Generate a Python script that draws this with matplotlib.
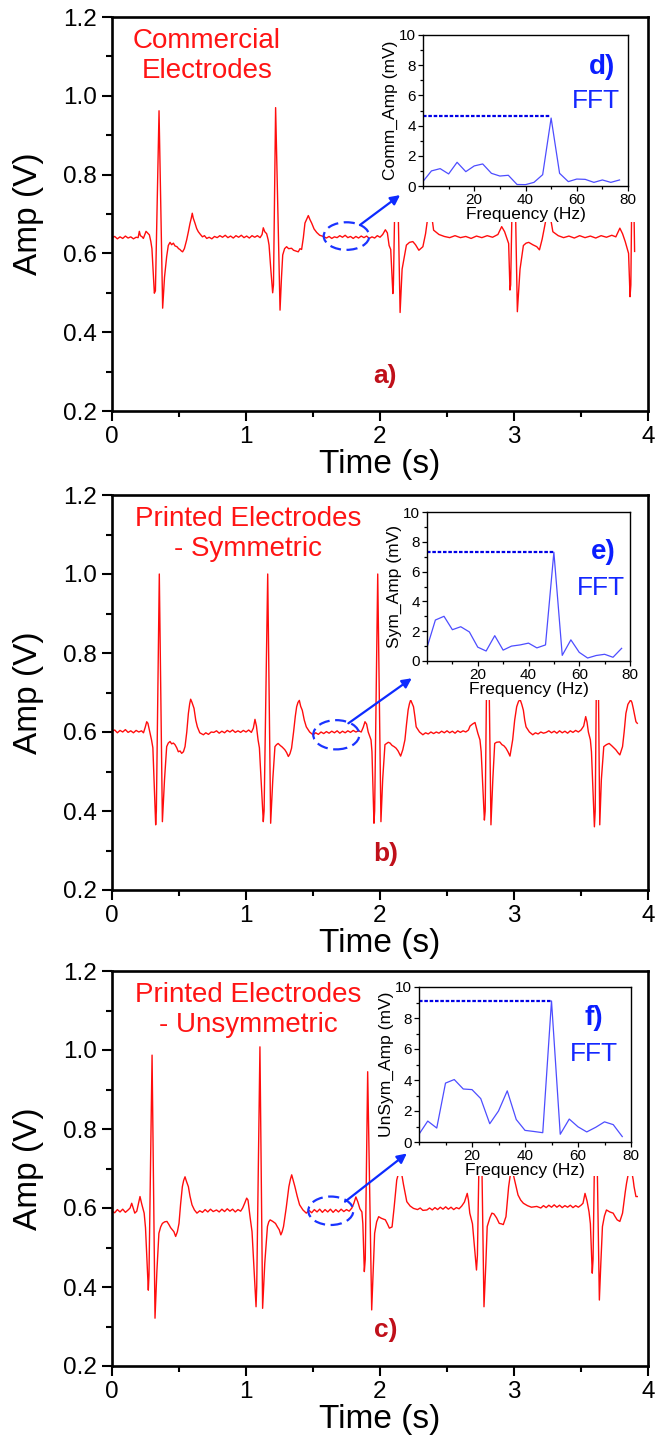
import numpy as np
import matplotlib
matplotlib.use("Agg")
import matplotlib.pyplot as plt
from matplotlib.patches import Ellipse, Rectangle
from matplotlib.ticker import MultipleLocator

plt.rcParams['font.family'] = ['Liberation Sans', 'DejaVu Sans']

# ---- ECG traces (time in s, amplitude in V) ----
t_comm = [0.00, 0.02, 0.04, 0.06, 0.08, 0.10, 0.12, 0.14, 0.16, 0.18, 0.195, 0.204, 0.212, 0.225, 0.234,
          0.245, 0.254, 0.265, 0.279, 0.290, 0.298, 0.316, 0.324, 0.351, 0.378, 0.392, 0.408, 0.420, 0.433,
          0.445, 0.458, 0.470, 0.485, 0.497, 0.507, 0.518, 0.527, 0.540, 0.557, 0.570, 0.582, 0.592, 0.599,
          0.606, 0.619, 0.632, 0.644, 0.660, 0.675, 0.690, 0.707, 0.725, 0.745, 0.765, 0.785, 0.805, 0.825,
          0.845, 0.865, 0.885, 0.905, 0.925, 0.945, 0.965, 0.985, 1.005, 1.025, 1.045, 1.065, 1.085, 1.105,
          1.120, 1.129, 1.140, 1.154, 1.165, 1.172, 1.185, 1.199, 1.205, 1.221, 1.254, 1.265, 1.274, 1.288,
          1.303, 1.318, 1.340, 1.355, 1.372, 1.390, 1.403, 1.415, 1.428, 1.440, 1.452, 1.465, 1.477, 1.490,
          1.508, 1.528, 1.550, 1.577, 1.60, 1.62, 1.64, 1.66, 1.68, 1.70, 1.72, 1.74, 1.76, 1.78, 1.80, 1.82,
          1.84, 1.86, 1.88, 1.90, 1.92, 1.94, 1.96, 1.98, 2.00, 2.02, 2.04, 2.055, 2.068, 2.080, 2.096, 2.100,
          2.122, 2.150, 2.165, 2.197, 2.22, 2.245, 2.265, 2.29, 2.32, 2.34, 2.36, 2.375, 2.39, 2.40, 2.44,
          2.48, 2.52, 2.56, 2.60, 2.64, 2.68, 2.72, 2.76, 2.80, 2.84, 2.88, 2.908, 2.93, 2.96, 2.97, 2.975,
          2.998, 3.025, 3.045, 3.07, 3.09, 3.11, 3.14, 3.17, 3.19, 3.21, 3.235, 3.255, 3.275, 3.29, 3.33,
          3.37, 3.41, 3.45, 3.49, 3.53, 3.57, 3.61, 3.65, 3.69, 3.73, 3.76, 3.79, 3.81, 3.83, 3.855, 3.866,
          3.872, 3.885, 3.90]
v_comm = [0.640, 0.643, 0.637, 0.642, 0.638, 0.644, 0.639, 0.642, 0.637, 0.641, 0.640, 0.656, 0.645, 0.642, 0.638,
          0.648, 0.656, 0.652, 0.647, 0.630, 0.612, 0.499, 0.505, 0.962, 0.461, 0.540, 0.592, 0.620, 0.628,
          0.622, 0.626, 0.619, 0.617, 0.612, 0.610, 0.606, 0.604, 0.612, 0.634, 0.655, 0.676, 0.690, 0.702,
          0.690, 0.677, 0.663, 0.655, 0.648, 0.642, 0.645, 0.638, 0.641, 0.637, 0.643, 0.640, 0.645, 0.641,
          0.646, 0.640, 0.644, 0.639, 0.645, 0.641, 0.646, 0.640, 0.644, 0.639, 0.645, 0.641, 0.645, 0.640,
          0.648, 0.665, 0.655, 0.650, 0.635, 0.621, 0.560, 0.500, 0.520, 0.970, 0.456, 0.540, 0.596, 0.612,
          0.617, 0.612, 0.613, 0.608, 0.606, 0.604, 0.612, 0.610, 0.640, 0.677, 0.686, 0.696, 0.686, 0.677,
          0.662, 0.653, 0.646, 0.643, 0.639, 0.643, 0.638, 0.642, 0.640, 0.645, 0.641, 0.646, 0.640, 0.643,
          0.638, 0.643, 0.639, 0.644, 0.640, 0.644, 0.638, 0.642, 0.639, 0.645, 0.641, 0.648, 0.660, 0.652,
          0.620, 0.610, 0.498, 0.520, 0.960, 0.450, 0.560, 0.621, 0.628, 0.630, 0.622, 0.608, 0.617, 0.650,
          0.700, 0.705, 0.685, 0.659, 0.648, 0.643, 0.640, 0.645, 0.640, 0.643, 0.638, 0.644, 0.640, 0.645,
          0.641, 0.648, 0.668, 0.655, 0.625, 0.507, 0.520, 0.960, 0.452, 0.560, 0.620, 0.626, 0.628, 0.622,
          0.617, 0.609, 0.636, 0.680, 0.705, 0.685, 0.655, 0.645, 0.640, 0.644, 0.639, 0.645, 0.640, 0.644,
          0.639, 0.645, 0.641, 0.646, 0.642, 0.664, 0.650, 0.630, 0.600, 0.490, 0.520, 0.940, 0.605]

t_sym = [0.00, 0.02, 0.04, 0.06, 0.08, 0.10, 0.12, 0.14, 0.16, 0.18, 0.20, 0.22, 0.235, 0.248, 0.259, 0.268,
         0.282, 0.295, 0.305, 0.326, 0.331, 0.353, 0.376, 0.392, 0.408, 0.420, 0.433, 0.445, 0.458, 0.470,
         0.483, 0.495, 0.508, 0.520, 0.533, 0.545, 0.558, 0.570, 0.580, 0.587, 0.597, 0.612, 0.625, 0.637,
         0.655, 0.682, 0.70, 0.72, 0.74, 0.76, 0.78, 0.80, 0.82, 0.84, 0.86, 0.88, 0.90, 0.92, 0.94, 0.96,
         0.98, 1.00, 1.02, 1.04, 1.055, 1.067, 1.078, 1.090, 1.100, 1.129, 1.135, 1.162, 1.184, 1.200, 1.216,
         1.228, 1.240, 1.255, 1.270, 1.290, 1.303, 1.316, 1.328, 1.340, 1.355, 1.368, 1.378, 1.388, 1.398,
         1.408, 1.420, 1.435, 1.450, 1.475, 1.50, 1.52, 1.54, 1.56, 1.58, 1.60, 1.62, 1.64, 1.66, 1.68, 1.70,
         1.72, 1.74, 1.76, 1.78, 1.80, 1.82, 1.84, 1.86, 1.875, 1.888, 1.900, 1.912, 1.933, 1.940, 1.955,
         1.960, 1.983, 2.007, 2.020, 2.037, 2.05, 2.062, 2.075, 2.09, 2.105, 2.12, 2.135, 2.154, 2.17, 2.186,
         2.198, 2.21, 2.22, 2.229, 2.24, 2.25, 2.26, 2.27, 2.295, 2.32, 2.34, 2.36, 2.38, 2.40, 2.42, 2.44,
         2.46, 2.48, 2.50, 2.52, 2.54, 2.56, 2.58, 2.60, 2.62, 2.64, 2.66, 2.672, 2.690, 2.709, 2.72, 2.73,
         2.746, 2.755, 2.779, 2.785, 2.804, 2.828, 2.842, 2.856, 2.87, 2.893, 2.91, 2.925, 2.94, 2.955, 2.97,
         2.99, 3.005, 3.02, 3.032, 3.045, 3.058, 3.07, 3.08, 3.09, 3.115, 3.14, 3.16, 3.18, 3.20, 3.22, 3.24,
         3.26, 3.28, 3.30, 3.32, 3.34, 3.36, 3.38, 3.40, 3.42, 3.44, 3.46, 3.48, 3.50, 3.52, 3.535, 3.545,
         3.555, 3.57, 3.578, 3.600, 3.606, 3.622, 3.640, 3.652, 3.670, 3.69, 3.71, 3.73, 3.745, 3.76, 3.775,
         3.79, 3.81, 3.822, 3.835, 3.85, 3.87, 3.88, 3.89, 3.91, 3.92]
v_sym = [0.602, 0.605, 0.598, 0.604, 0.600, 0.606, 0.599, 0.603, 0.598, 0.604, 0.600, 0.603, 0.598, 0.612, 0.626, 0.622,
         0.600, 0.580, 0.560, 0.365, 0.400, 1.000, 0.373, 0.480, 0.563, 0.572, 0.576, 0.570, 0.572, 0.568,
         0.560, 0.550, 0.552, 0.546, 0.550, 0.563, 0.600, 0.647, 0.672, 0.683, 0.675, 0.660, 0.630, 0.613,
         0.598, 0.593, 0.598, 0.594, 0.600, 0.599, 0.603, 0.597, 0.602, 0.598, 0.604, 0.600, 0.605, 0.599, 0.603, 0.599,
         0.604, 0.600, 0.605, 0.599, 0.610, 0.632, 0.615, 0.580, 0.560, 0.373, 0.400, 1.000, 0.369, 0.480, 0.563,
         0.568, 0.571, 0.566, 0.562, 0.555, 0.548, 0.538, 0.545, 0.559, 0.600, 0.640, 0.664, 0.675, 0.680,
         0.665, 0.655, 0.630, 0.613, 0.600, 0.593, 0.598, 0.594, 0.600, 0.596, 0.601, 0.597, 0.602, 0.598, 0.603, 0.597,
         0.602, 0.598, 0.603, 0.599, 0.604, 0.600, 0.603, 0.600, 0.612, 0.626, 0.620, 0.600, 0.580, 0.550, 0.369,
         0.400, 1.000, 0.373, 0.480, 0.568, 0.571, 0.574, 0.572, 0.566, 0.563, 0.559, 0.552, 0.539, 0.555, 0.580,
         0.620, 0.656, 0.672, 0.681, 0.672, 0.664, 0.640, 0.613, 0.600, 0.593, 0.598, 0.595, 0.600, 0.596, 0.600, 0.597,
         0.602, 0.598, 0.603, 0.598, 0.602, 0.597, 0.603, 0.599, 0.603, 0.600, 0.605, 0.615, 0.620, 0.624, 0.610, 0.597,
         0.580, 0.550, 0.377, 0.400, 1.000, 0.365, 0.480, 0.571, 0.574, 0.575, 0.568, 0.565, 0.559, 0.550, 0.539,
         0.580, 0.630, 0.664, 0.676, 0.683, 0.670, 0.655, 0.630, 0.613, 0.600, 0.593, 0.598, 0.595, 0.600, 0.597, 0.599,
         0.603, 0.598, 0.602, 0.597, 0.603, 0.598, 0.602, 0.597, 0.603, 0.599, 0.604, 0.600, 0.605, 0.615, 0.639, 0.625,
         0.600, 0.580, 0.550, 0.360, 0.400, 1.000, 0.365, 0.480, 0.563, 0.568, 0.571, 0.565, 0.560, 0.555, 0.548,
         0.542, 0.563, 0.600, 0.647, 0.670, 0.681, 0.675, 0.660, 0.626, 0.622]

t_unsym = [0.00, 0.02, 0.04, 0.06, 0.08, 0.10, 0.12, 0.135, 0.147, 0.158, 0.170, 0.185, 0.198, 0.209, 0.222,
           0.240, 0.250, 0.271, 0.276, 0.299, 0.321, 0.335, 0.350, 0.363, 0.376, 0.393, 0.410, 0.425, 0.438,
           0.450, 0.462, 0.475, 0.488, 0.500, 0.512, 0.525, 0.535, 0.545, 0.555, 0.570, 0.582, 0.597, 0.615,
           0.634, 0.655, 0.675, 0.695, 0.715, 0.735, 0.755, 0.78, 0.80, 0.82, 0.84, 0.86, 0.88, 0.90, 0.92,
           0.94, 0.96, 0.975, 0.99, 1.005, 1.015, 1.030, 1.045, 1.075, 1.080, 1.104, 1.124, 1.140, 1.160,
           1.170, 1.180, 1.200, 1.220, 1.235, 1.248, 1.260, 1.270, 1.280, 1.300, 1.320, 1.331, 1.341, 1.352,
           1.365, 1.382, 1.400, 1.425, 1.45, 1.47, 1.49, 1.51, 1.53, 1.55, 1.57, 1.59, 1.61, 1.63, 1.65, 1.67,
           1.69, 1.71, 1.73, 1.75, 1.77, 1.79, 1.805, 1.820, 1.835, 1.850, 1.865, 1.872, 1.883, 1.890, 1.908,
           1.938, 1.950, 1.960, 1.975, 1.990, 2.010, 2.040, 2.055, 2.070, 2.090, 2.105, 2.125, 2.14, 2.16,
           2.175, 2.20, 2.225, 2.25, 2.28, 2.30, 2.32, 2.35, 2.37, 2.39, 2.41, 2.43, 2.45, 2.47, 2.49, 2.51,
           2.53, 2.55, 2.57, 2.59, 2.61, 2.63, 2.651, 2.66, 2.67, 2.69, 2.72, 2.727, 2.75, 2.776, 2.790, 2.80,
           2.82, 2.835, 2.85, 2.87, 2.89, 2.905, 2.92, 2.94, 2.96, 2.975, 2.99, 3.005, 3.03, 3.05, 3.07, 3.10,
           3.13, 3.17, 3.20, 3.22, 3.24, 3.26, 3.28, 3.30, 3.32, 3.34, 3.36, 3.38, 3.40, 3.42, 3.44, 3.46,
           3.48, 3.50, 3.515, 3.53, 3.545, 3.56, 3.57, 3.584, 3.590, 3.610, 3.637, 3.648, 3.660, 3.675, 3.690,
           3.715, 3.74, 3.755, 3.77, 3.79, 3.81, 3.83, 3.84, 3.855, 3.875, 3.89, 3.896, 3.91, 3.92]
v_unsym = [0.592, 0.588, 0.596, 0.590, 0.597, 0.589, 0.595, 0.600, 0.612, 0.600, 0.587, 0.592, 0.612, 0.629, 0.610,
           0.587, 0.550, 0.392, 0.430, 0.987, 0.321, 0.440, 0.536, 0.552, 0.561, 0.565, 0.566, 0.558, 0.550,
           0.545, 0.540, 0.528, 0.540, 0.561, 0.610, 0.654, 0.670, 0.679, 0.668, 0.654, 0.630, 0.608, 0.595,
           0.587, 0.593, 0.589, 0.596, 0.590, 0.597, 0.591, 0.595, 0.590, 0.597, 0.591, 0.598, 0.592, 0.597, 0.590,
           0.596, 0.592, 0.600, 0.612, 0.625, 0.620, 0.578, 0.540, 0.350, 0.400, 1.008, 0.346, 0.460, 0.553,
           0.565, 0.570, 0.566, 0.561, 0.552, 0.545, 0.532, 0.540, 0.553, 0.600, 0.654, 0.672, 0.684, 0.670,
           0.654, 0.630, 0.608, 0.595, 0.587, 0.594, 0.588, 0.596, 0.590, 0.597, 0.589, 0.596, 0.590, 0.597, 0.589, 0.596,
           0.590, 0.597, 0.591, 0.596, 0.592, 0.600, 0.612, 0.628, 0.615, 0.598, 0.590, 0.560, 0.439, 0.470, 0.945,
           0.342, 0.450, 0.536, 0.565, 0.578, 0.574, 0.570, 0.560, 0.549, 0.552, 0.600, 0.671, 0.690, 0.690,
           0.660, 0.616, 0.605, 0.599, 0.596, 0.600, 0.594, 0.595, 0.600, 0.595, 0.601, 0.596, 0.602, 0.597, 0.603, 0.597,
           0.602, 0.596, 0.601, 0.598, 0.605, 0.615, 0.637, 0.620, 0.587, 0.560, 0.443, 0.480, 0.950, 0.350, 0.460, 0.553,
           0.575, 0.587, 0.585, 0.575, 0.561, 0.560, 0.558, 0.578, 0.654, 0.690, 0.692, 0.670, 0.633, 0.620, 0.612, 0.606,
           0.602, 0.604, 0.600, 0.606, 0.601, 0.607, 0.602, 0.608, 0.602, 0.607, 0.601, 0.606, 0.602, 0.607, 0.601, 0.606,
           0.602, 0.607, 0.612, 0.637, 0.618, 0.590, 0.560, 0.435, 0.470, 0.950, 0.367, 0.460, 0.553, 0.580, 0.595,
           0.590, 0.587, 0.578, 0.570, 0.566, 0.587, 0.640, 0.663, 0.690, 0.700, 0.670, 0.654, 0.629, 0.629]

# ---- FFT insets (mV vs Hz) ----
freq = [0.0, 3.3, 6.7, 10.0, 13.3, 16.7, 20.0, 23.3, 26.7, 30.0, 33.3, 36.7, 40.0, 43.3, 46.7, 50.0,
        53.3, 56.7, 60.0, 63.3, 66.7, 70.0, 73.3, 76.7]
fft_comm = [0.30, 1.00, 1.15, 0.80, 1.57, 0.95, 1.33, 1.46, 0.84, 0.66, 0.71, 0.10, 0.09, 0.24, 0.75, 4.50,
            0.84, 0.29, 0.46, 0.44, 0.24, 0.40, 0.24, 0.40]
fft_sym = [0.90, 2.75, 3.00, 2.10, 2.30, 1.95, 0.93, 0.67, 1.70, 0.73, 1.00, 1.08, 1.20, 0.88, 1.08, 7.30,
           0.38, 1.42, 0.58, 0.20, 0.37, 0.45, 0.25, 0.85]
fft_unsym = [0.50, 1.35, 0.90, 3.80, 4.03, 3.42, 3.38, 2.80, 1.18, 2.00, 3.30, 1.45, 0.75, 0.68, 0.60, 9.10,
             0.50, 1.48, 0.98, 0.65, 0.95, 1.30, 1.12, 0.35]
peak_level = [4.65, 7.3, 9.1]

titles = ['Commercial\nElectrodes', 'Printed Electrodes\n- Symmetric', 'Printed Electrodes\n- Unsymmetric']
title_x = [0.177, 0.254, 0.254]
panel_tags = ['a)', 'b)', 'c)']
fft_tags = ['d)', 'e)', 'f)']
fft_ylabels = ['Comm_Amp (mV)', 'Sym_Amp (mV)', 'UnSym_Amp (mV)']
# zoomed region marker: ellipse centre/size and arrow start/end in data units
ell_xy = [(1.75, 0.644), (1.674, 0.593), (1.633, 0.593)]
ell_wh = [(0.34, 0.070), (0.344, 0.074), (0.336, 0.072)]
arr_from = [(1.85, 0.672), (1.764, 0.622), (1.739, 0.616)]
arr_to = [(2.15, 0.748), (2.237, 0.736), (2.20, 0.738)]

W, H = 661, 1439
fig = plt.figure(figsize=(W / 100, H / 100), dpi=100)


def box(l, t, r, b):
    return [l / W, 1 - b / H, (r - l) / W, (b - t) / H]


main_boxes = [(112, 17, 648, 411), (112, 495, 648, 890), (112, 971, 648, 1366)]
inset_boxes = [(423, 35, 628, 186), (427, 512, 630, 661), (419, 987, 631, 1142)]
fft_tag_pos = [(0.873, 0.788, 0.844, 0.563), (0.867, 0.73, 0.857, 0.49), (0.825, 0.80, 0.825, 0.568)]

traces = [(t_comm, v_comm), (t_sym, v_sym), (t_unsym, v_unsym)]
ffts = [fft_comm, fft_sym, fft_unsym]

for i in range(3):
    ax = fig.add_axes(box(*main_boxes[i]))
    t, v = traces[i]
    ax.plot(t, v, color='#ff0d0d', lw=1.0, zorder=2)
    ax.set_xlim(0, 4)
    ax.set_ylim(0.2, 1.2)
    ax.xaxis.set_major_locator(MultipleLocator(1))
    ax.xaxis.set_minor_locator(MultipleLocator(0.5))
    ax.yaxis.set_major_locator(MultipleLocator(0.2))
    ax.yaxis.set_minor_locator(MultipleLocator(0.1))
    ax.set_yticks(np.round(np.arange(0.2, 1.21, 0.2), 1))
    ax.tick_params(which='both', direction='out', width=1.5, labelsize=17.5, pad=4)
    ax.tick_params(which='major', length=7)
    ax.tick_params(which='minor', length=4)
    for s in ax.spines.values():
        s.set_linewidth(1.9)
    ax.set_xlabel('Time (s)', fontsize=24)
    ax.set_ylabel('Amp (V)', fontsize=24)
    ax.xaxis.label.set_va('center')
    ax.yaxis.label.set_va('center')
    ax.xaxis.set_label_coords(0.5, -0.135)
    ax.yaxis.set_label_coords(-0.155, 0.5)

    # white patch behind the inset and its labels
    ax.add_patch(Rectangle((0.509, 0.48), 0.49, 0.519, transform=ax.transAxes,
                           facecolor='white', edgecolor='none', zorder=2.3))
    ax.add_patch(Ellipse(ell_xy[i], ell_wh[i][0], ell_wh[i][1], fill=False, edgecolor='#1a33ff',
                         lw=1.6, linestyle=(0, (5, 2.5)), zorder=2.4))
    ax.annotate('', xy=arr_to[i], xytext=arr_from[i],
                arrowprops=dict(arrowstyle='-|>', color='#0d2bff', lw=1.6, mutation_scale=14,
                                shrinkA=0, shrinkB=0), zorder=4)

    ax.text(title_x[i], 0.90, titles[i], transform=ax.transAxes, ha='center', va='center',
            color='#ff1414', fontsize=20, linespacing=1.2)
    ax.text(0.51, 0.09, panel_tags[i], transform=ax.transAxes, ha='center', va='center',
            color='#c0101a', fontsize=19, fontweight='bold')

    # FFT inset
    ix = fig.add_axes(box(*inset_boxes[i]))
    ix.plot(freq, ffts[i], color='#4d4dff', lw=0.9)
    ix.plot([0, 50], [peak_level[i], peak_level[i]], color='#0000e6', lw=1.6, linestyle=(0, (1.6, 0.8)))
    ix.set_xlim(0, 80)
    ix.set_ylim(0, 10)
    ix.set_xticks([20, 40, 60, 80])
    ix.xaxis.set_minor_locator(MultipleLocator(10))
    ix.yaxis.set_major_locator(MultipleLocator(2))
    ix.yaxis.set_minor_locator(MultipleLocator(1))
    ix.tick_params(which='both', direction='out', width=0.9, labelsize=11, pad=1.5)
    ix.tick_params(which='major', length=3.5)
    ix.tick_params(which='minor', length=2)
    for s in ix.spines.values():
        s.set_linewidth(1.0)
    ix.set_xlabel('Frequency (Hz)', fontsize=12.5, labelpad=0)
    ix.set_ylabel(fft_ylabels[i], fontsize=12.5, labelpad=1)
    tx, ty, fx, fy = fft_tag_pos[i]
    ix.text(tx, ty, fft_tags[i], transform=ix.transAxes, ha='center', va='center',
            color='#0a1eff', fontsize=20, fontweight='bold')
    ix.text(fx, fy, 'FFT', transform=ix.transAxes, ha='center', va='center',
            color='#1428ff', fontsize=19)

fig.savefig('out.png', dpi=100)
